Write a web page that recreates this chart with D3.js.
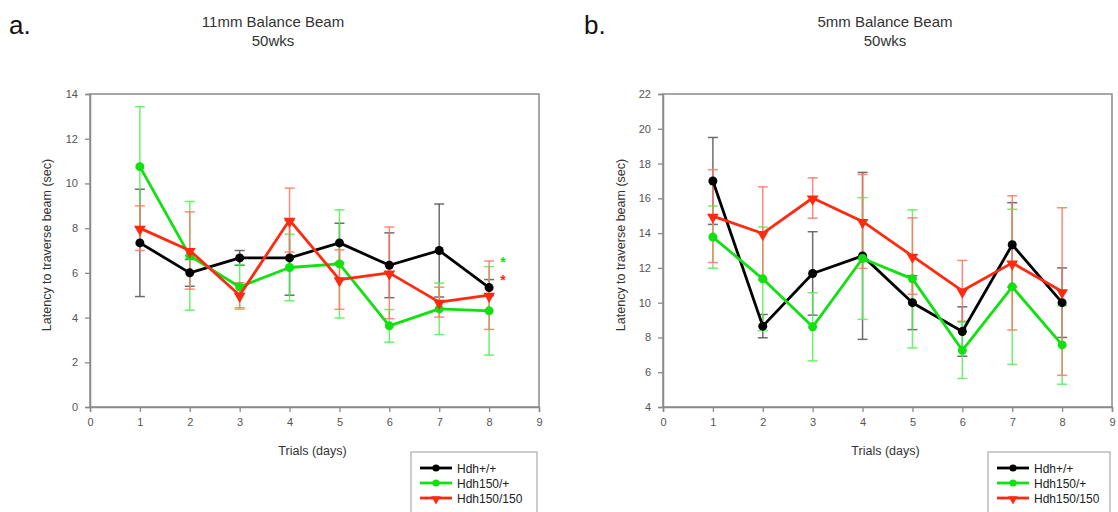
<!DOCTYPE html>
<html>
<head>
<meta charset="utf-8">
<script src="https://cdn.jsdelivr.net/npm/d3@7"></script>
<style>
  body { margin: 0; background: #fff; }
  svg { font-family: "Liberation Sans", Arial, sans-serif; }
</style>
</head>
<body>
<svg id="chart" width="1118" height="512"></svg>
<script>
// Dados
const trials = [1, 2, 3, 4, 5, 6, 7, 8];
const seriesNames = ["Hdh+/+", "Hdh150/+", "Hdh150/150"];
const colors = ["#000000", "#11e011", "#ff2a10"];
const barColors = ["#555555", "#55ee55", "#ff7565"];

// Painel a: 11mm
const aWild = [7.34, 6.0, 6.67, 6.67, 7.34, 6.34, 7.0, 5.34];
const aWildErr = [2.4, 0.6, 0.33, 1.67, 0.88, 1.45, 2.08, 0.36];
const aHet = [10.75, 6.76, 5.37, 6.24, 6.4, 3.63, 4.39, 4.3];
const aHetErr = [2.68, 2.43, 1.0, 1.49, 2.42, 0.73, 1.15, 1.98];
const aHom = [8.0, 7.0, 5.0, 8.36, 5.7, 6.0, 4.69, 5.0];
const aHomErr = [1.0, 1.73, 0.56, 1.43, 1.33, 2.05, 0.67, 1.53];

// Painel b: 5mm
const bWild = [17.0, 8.65, 11.68, 12.69, 10.0, 8.34, 13.33, 10.0];
const bWildErr = [2.5, 0.67, 2.4, 4.8, 1.55, 1.42, 2.42, 2.0];
const bHet = [13.77, 11.37, 8.61, 12.54, 11.37, 7.26, 10.91, 7.57];
const bHetErr = [1.79, 2.98, 1.96, 3.5, 3.97, 1.62, 4.46, 2.26];
const bHom = [14.98, 13.98, 16.02, 14.67, 12.68, 10.68, 12.29, 10.64];
const bHomErr = [2.67, 2.68, 1.16, 2.7, 2.2, 1.75, 3.86, 4.82];

const xTicks = [0, 1, 2, 3, 4, 5, 6, 7, 8, 9];
const aYTicks = [0, 2, 4, 6, 8, 10, 12, 14];
const bYTicks = [4, 6, 8, 10, 12, 14, 16, 18, 20, 22];

// asteriscos de significância no painel a: [x, y, série]
const aStars = [[8.28, 6.6, 1], [8.28, 5.8, 2]];

const svg = d3.select("#chart");

function drawPanel(opt) {
  const x = d3.scaleLinear().domain([0, 9]).range([opt.left, opt.right]);
  const y = d3.scaleLinear().domain(opt.yDomain).range([407, 94]);
  const g = svg.append("g");

  // caixa do gráfico
  g.append("rect")
    .attr("x", opt.left).attr("y", 94)
    .attr("width", opt.right - opt.left).attr("height", 313)
    .attr("fill", "none").attr("stroke", "#8a8a8a").attr("stroke-width", 1.5);

  const yAxis = g.append("g")
    .attr("transform", `translate(${opt.left},0)`)
    .call(d3.axisLeft(y).tickValues(opt.yTicks).tickSize(5).tickPadding(7));
  const xAxis = g.append("g")
    .attr("transform", `translate(0,407)`)
    .call(d3.axisBottom(x).tickValues(xTicks).tickSize(5).tickPadding(6));
  [xAxis, yAxis].forEach(ax => {
    ax.select(".domain").attr("stroke", "#8a8a8a").attr("stroke-width", 1.5);
    ax.selectAll(".tick line").attr("stroke", "#8a8a8a").attr("stroke-width", 1.3);
    ax.selectAll(".tick text").attr("fill", "#555").attr("font-size", 11)
      .attr("font-family", "Liberation Sans, Arial, sans-serif");
  });

  // títulos
  const title = g.append("text").attr("text-anchor", "middle")
    .attr("font-size", 15).attr("fill", "#333");
  title.append("tspan").attr("x", opt.titleX).attr("y", 27).text(opt.title);
  title.append("tspan").attr("x", opt.titleX).attr("y", 46).text("50wks");

  g.append("text").attr("x", opt.letterX).attr("y", 34)
    .attr("font-size", 26).attr("fill", "#111").text(opt.letter);

  g.append("text").attr("x", (opt.left + opt.right) / 2 - 2).attr("y", 455)
    .attr("text-anchor", "middle").attr("font-size", 12.5).attr("fill", "#333")
    .text("Trials (days)");

  g.append("text")
    .attr("transform", `translate(${opt.yTitleX},245) rotate(-90)`)
    .attr("text-anchor", "middle").attr("font-size", 12.5).attr("fill", "#333")
    .text("Latency to traverse beam (sec)");

  // barras de erro
  opt.series.forEach((s, k) => {
    const eb = g.append("g").attr("stroke", barColors[k]).attr("stroke-width", 1.5)
      .attr("stroke-opacity", 0.85);
    trials.forEach((t, i) => {
      const cx = x(t), top = y(s.mean[i] + s.err[i]), bot = y(s.mean[i] - s.err[i]);
      eb.append("line").attr("x1", cx).attr("x2", cx).attr("y1", top).attr("y2", bot);
      eb.append("line").attr("x1", cx - 5).attr("x2", cx + 5).attr("y1", top).attr("y2", top);
      eb.append("line").attr("x1", cx - 5).attr("x2", cx + 5).attr("y1", bot).attr("y2", bot);
    });
  });

  // linhas e marcadores
  const line = d3.line().x((d, i) => x(trials[i])).y(d => y(d));
  opt.series.forEach((s, k) => {
    g.append("path").datum(s.mean)
      .attr("fill", "none").attr("stroke", colors[k]).attr("stroke-width", 2.8)
      .attr("stroke-linejoin", "round").attr("d", line);
    drawMarkers(g, s.mean.map((v, i) => [x(trials[i]), y(v)]), k);
  });

  // asteriscos
  (opt.stars || []).forEach(st => {
    g.append("text").attr("x", x(st[0])).attr("y", y(st[1]) + 8)
      .attr("text-anchor", "middle").attr("font-size", 14).attr("font-weight", "bold")
      .attr("fill", colors[st[2]])
      .text("*");
  });

  // legenda
  const lg = g.append("g").attr("transform", `translate(${opt.legendX},452)`);
  lg.append("rect").attr("x", 0).attr("y", 0).attr("width", opt.legendW).attr("height", 70)
    .attr("fill", "#fff").attr("stroke", "#999").attr("stroke-width", 1);
  seriesNames.forEach((name, k) => {
    const ly = 16 + k * 15;
    lg.append("line").attr("x1", 9).attr("x2", 41).attr("y1", ly).attr("y2", ly)
      .attr("stroke", colors[k]).attr("stroke-width", 2.8);
    drawMarkers(lg, [[25, ly]], k, 0.8);
    lg.append("text").attr("x", 46).attr("y", ly + 4.5)
      .attr("font-size", 12).attr("fill", "#222").text(name);
  });
}

// círculo para as duas primeiras séries, triângulo invertido para a terceira
function drawMarkers(g, pts, k, scale = 1) {
  if (k < 2) {
    g.selectAll(null).data(pts).join("circle")
      .attr("cx", d => d[0]).attr("cy", d => d[1]).attr("r", 4.5 * scale)
      .attr("fill", colors[k]);
  } else {
    const tri = d3.symbol().type(d3.symbolTriangle).size(60 * scale * scale);
    g.selectAll(null).data(pts).join("path")
      .attr("d", tri)
      .attr("transform", d => `translate(${d[0]},${d[1] + 1}) rotate(180)`)
      .attr("fill", colors[k]);
  }
}

drawPanel({
  left: 90, right: 539, yDomain: [0, 14], yTicks: aYTicks,
  title: "11mm Balance Beam", titleX: 273, letter: "a.", letterX: 9,
  yTitleX: 51, legendX: 411, legendW: 126,
  series: [
    { mean: aWild, err: aWildErr },
    { mean: aHet, err: aHetErr },
    { mean: aHom, err: aHomErr }
  ],
  stars: aStars
});

drawPanel({
  left: 663, right: 1112, yDomain: [4, 22], yTicks: bYTicks,
  title: "5mm Balance Beam", titleX: 885, letter: "b.", letterX: 584,
  yTitleX: 625, legendX: 988, legendW: 122,
  series: [
    { mean: bWild, err: bWildErr },
    { mean: bHet, err: bHetErr },
    { mean: bHom, err: bHomErr }
  ]
});
</script>
</body>
</html>
